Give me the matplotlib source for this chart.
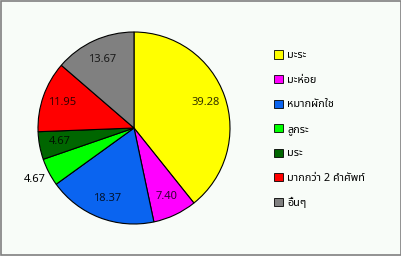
import matplotlib
matplotlib.use("Agg")
import matplotlib.pyplot as plt
from matplotlib.patches import Patch
import numpy as np

categories = ["มะระ", "มะห่อย", "หมากผักใช", "ลูกระ", "มระ", "มากกว่า 2 คําศัพท์", "อื่นๆ"]
values = [39.28, 7.40, 18.37, 4.67, 4.67, 11.95, 13.67]
labels = ["39.28", "7.40", "18.37", "4.67", "4.67", "11.95", "13.67"]
colors = ["#FFFF00", "#FF00FF", "#0A64F0", "#00FF00", "#006600", "#FF0000", "#808080"]

plt.rcParams['font.family'] = ['Noto Sans Thai', 'Tahoma', 'Loma', 'Garuda', 'DejaVu Sans']

fig = plt.figure(figsize=(4.02, 2.56), dpi=100)
fig.patch.set_facecolor("#F8FCF8")
fig.patches.append(plt.Rectangle((0.003, 0.003), 0.994, 0.994, transform=fig.transFigure,
                                 fill=False, edgecolor="#808080", linewidth=1.2))

cx, cy, r = 134, 128, 96
ax = fig.add_axes([(cx - r) / 402, (cy - r) / 256, 2 * r / 402, 2 * r / 256])

wedges, texts = ax.pie(values, colors=colors, startangle=90, counterclock=False,
                       wedgeprops=dict(edgecolor="black", linewidth=0.8), radius=1)
ax.set_xlim(-1, 1)
ax.set_ylim(-1, 1)
ax.set_aspect("equal")
ax.axis("off")
for w in wedges:
    w.set_clip_on(False)

theta = 90.0
for i, (v, lab) in enumerate(zip(values, labels)):
    span = v / sum(values) * 360
    mid = np.deg2rad(theta - span / 2)
    theta -= span
    d = 1.17 if i == 3 else 0.79
    ax.text(d * np.cos(mid), d * np.sin(mid), lab, ha="center", va="center",
            fontsize=8, color="black", alpha=0.8 if i != 3 else 1.0)

handles = [Patch(facecolor=c, edgecolor="black", linewidth=0.6) for c in colors]
leg = fig.legend(handles, categories, loc="upper left", bbox_to_anchor=(270 / 402, 1 - 46 / 256),
                 frameon=False, fontsize=7.8, handlelength=0.8, handleheight=0.8,
                 handletextpad=0.4, labelspacing=1.25, borderaxespad=0)
fig.savefig("out.png", dpi=100, facecolor=fig.get_facecolor())
